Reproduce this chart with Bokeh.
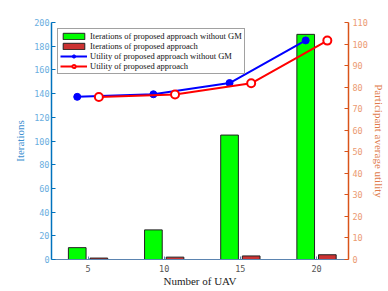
from bokeh.plotting import figure
from bokeh.models import Range1d, LinearAxis, Legend, LegendItem, FixedTicker, ColumnDataSource
from bokeh.embed import file_html
from bokeh.resources import INLINE

# ---- data ----
uav = [5, 10, 15, 20]
iter_without_gm = [10, 25, 105, 190]
iter_proposed = [1.2, 2, 3, 4]
util_without_gm = [75.5, 76.7, 81.9, 101.7]
util_proposed = [75.4, 76.6, 81.8, 101.6]
x_ticks = [5, 10, 15, 20]
left_ticks = list(range(0, 201, 20))
right_ticks = list(range(0, 111, 10))

labels = [
    "Iterations of proposed approach without GM",
    "Iterations of proposed approach",
    "Utility of proposed approach without GM",
    "Utility of proposed approach",
]

off = 0.71
bw = 1.16
x_left = [u - off for u in uav]
x_right = [u + off for u in uav]

p = figure(width=388, height=291, output_backend="svg", toolbar_location=None,
           x_range=Range1d(2.6, 22.1), y_range=Range1d(0, 200),
           min_border_left=51, min_border_right=40, min_border_top=22, min_border_bottom=32)
p.outline_line_color = None
p.grid.visible = False
p.background_fill_color = "white"

p.extra_y_ranges = {"util": Range1d(0, 110)}

tick_font = "DejaVu Sans Mono"
label_font = "Liberation Serif"

# bars
src_g = ColumnDataSource(dict(x=x_left, top=iter_without_gm))
src_r = ColumnDataSource(dict(x=x_right, top=iter_proposed))
g = p.vbar(x="x", top="top", width=bw, bottom=0, source=src_g,
           fill_color="#00FF00", line_color="#222222", line_width=1)
r = p.vbar(x="x", top="top", width=bw, bottom=0, source=src_r,
           fill_color="#CC3333", line_color="#222222", line_width=1)

# lines on right axis
src_b = ColumnDataSource(dict(x=x_left, y=util_without_gm))
src_rl = ColumnDataSource(dict(x=x_right, y=util_proposed))
bl = p.line("x", "y", source=src_b, y_range_name="util", line_color="#0000FF", line_width=2)
bs = p.scatter("x", "y", source=src_b, y_range_name="util", marker="circle", size=7,
               fill_color="#0000FF", line_color="#0000FF")
rl = p.line("x", "y", source=src_rl, y_range_name="util", line_color="#FF0000", line_width=2)
rs = p.scatter("x", "y", source=src_rl, y_range_name="util", marker="circle", size=8,
               fill_color="white", line_color="#FF0000", line_width=2)

# axes
xa = p.xaxis[0]
xa.ticker = FixedTicker(ticks=x_ticks)
xa.axis_label = "Number of UAV"
xa.axis_label_text_font = label_font
xa.axis_label_text_font_style = "normal"
xa.axis_label_text_font_size = "11px"
xa.axis_label_text_color = "#222222"
xa.axis_label_standoff = 0
xa.major_label_text_font = tick_font
xa.major_label_text_font_size = "8.5px"
xa.major_label_text_color = "#555555"
xa.major_label_standoff = 5
xa.axis_line_color = "#5b84b0"
xa.major_tick_line_color = "#5b84b0"
xa.major_tick_in = 3
xa.major_tick_out = 0
xa.minor_tick_line_color = None

ya = p.yaxis[0]
ya.ticker = FixedTicker(ticks=left_ticks)
ya.axis_label = "Iterations"
ya.axis_label_text_font = label_font
ya.axis_label_text_font_style = "normal"
ya.axis_label_text_font_size = "11px"
ya.axis_label_text_color = "#3d8fd0"
ya.axis_label_standoff = 5
ya.major_label_text_font = tick_font
ya.major_label_text_font_size = "8.5px"
ya.major_label_text_color = "#6aaee0"
ya.major_label_standoff = 2
ya.axis_line_color = "#0072BD"
ya.axis_line_width = 1.5
ya.major_tick_line_color = "#0072BD"
ya.major_tick_in = 4
ya.major_tick_out = 0
ya.minor_tick_line_color = None

ra = LinearAxis(y_range_name="util", ticker=FixedTicker(ticks=right_ticks))
ra.axis_label = "Participant average utility"
ra.axis_label_text_font = label_font
ra.axis_label_text_font_style = "normal"
ra.axis_label_text_font_size = "11px"
ra.axis_label_text_color = "#e07a4a"
ra.axis_label_standoff = 2
ra.major_label_text_font = tick_font
ra.major_label_text_font_size = "8.5px"
ra.major_label_text_color = "#eb9a72"
ra.major_label_standoff = 4
ra.axis_line_color = "#D95319"
ra.axis_line_width = 1.5
ra.major_tick_line_color = "#D95319"
ra.major_tick_in = 4
ra.major_tick_out = 0
ra.minor_tick_line_color = None
p.add_layout(ra, "right")

legend = Legend(items=[
    LegendItem(label=labels[0], renderers=[g]),
    LegendItem(label=labels[1], renderers=[r]),
    LegendItem(label=labels[2], renderers=[bl, bs]),
    LegendItem(label=labels[3], renderers=[rl, rs]),
], location="top_left")
legend.margin = 6
legend.padding = 2
legend.spacing = 0
legend.glyph_width = 27
legend.glyph_height = 8
legend.label_height = 8
legend.label_standoff = 3
legend.label_text_font = label_font
legend.label_text_font_size = "8.5px"
legend.label_text_line_height = 1.0
legend.label_text_color = "#111111"
legend.border_line_color = "#444444"
legend.border_line_width = 1
legend.background_fill_alpha = 1
p.add_layout(legend, "center")

open("out.html", "w").write(file_html(p, INLINE))
